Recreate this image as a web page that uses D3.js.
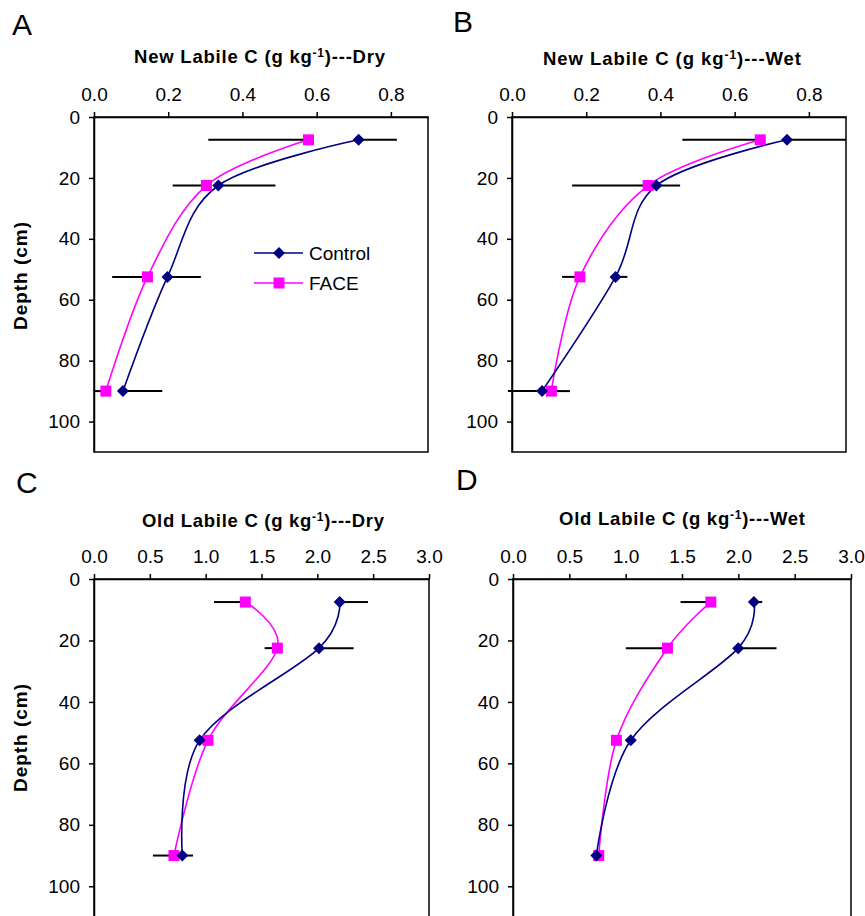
<!DOCTYPE html>
<html lang="en">
<head>
<meta charset="UTF-8">
<title>Labile C depth profiles</title>
<style>
    body { margin: 0; background: #fff; }
    svg { display: block; font-family: "Liberation Sans", Arial, sans-serif; }
    .axis path, .axis line { stroke: #000; stroke-width: 1.5; }
    .axis text { font-size: 19px; fill: #000; }
</style>
</head>
<body>
<div id="chart"></div>
<script src="https://d3js.org/d3.v7.min.js"></script>
<script>
// depth of each sampled layer (cm)
const depths = [7.5, 22.5, 52.5, 90];
const depthTicks = [0, 20, 40, 60, 80, 100];
const newTicks = [0, 0.2, 0.4, 0.6, 0.8];
const oldTicks = [0, 0.5, 1.0, 1.5, 2.0, 2.5, 3.0];
const seriesNames = ["Control", "FACE"];
const panelLetters = ["A", "B", "C", "D"];
const poolNames = ["New Labile C", "New Labile C", "Old Labile C", "Old Labile C"];
const moisture = ["Dry", "Wet", "Dry", "Wet"];

// values (g/kg)
const controlNewDry = [0.713, 0.335, 0.198, 0.078];
const faceNewDry = [0.578, 0.303, 0.144, 0.032];
const controlNewWet = [0.741, 0.389, 0.279, 0.081];
const faceNewWet = [0.669, 0.367, 0.183, 0.106];
const controlOldDry = [2.20, 2.015, 0.946, 0.791];
const faceOldDry = [1.355, 1.642, 1.021, 0.716];
const controlOldWet = [2.138, 1.999, 1.045, 0.740];
const faceOldWet = [1.756, 1.371, 0.918, 0.761];

// error bars: control drawn on + side, FACE on - side
const controlNewDryErr = [0.103, 0.154, 0.090, 0.106];
const faceNewDryErr = [0.270, 0.091, 0.095, 0.032];
const controlNewWetErr = [0.159, 0.064, 0.032, 0.075];
const faceNewWetErr = [0.210, 0.205, 0.048, 0.117];
const controlOldDryErr = [0.254, 0.310, 0.030, 0.096];
const faceOldDryErr = [0.280, 0.114, 0.030, 0.188];
const controlOldWetErr = [0.074, 0.340, 0.020, 0.020];
const faceOldWetErr = [0.269, 0.370, 0.020, 0.030];

const width = 865, height = 916;
const colors = { Control: "#000080", FACE: "#ff00ff" };

const panels = [
    { left: 94, top: 117, w: 334, h: 335, xMax: 0.9, ticks: newTicks,
      control: controlNewDry, face: faceNewDry, cErr: controlNewDryErr, fErr: faceNewDryErr,
      letterX: 12, letterY: 35, titleX: 134, titleY: 63, titleLen: 251, yLabel: true, legend: true },
    { left: 512, top: 117, w: 334, h: 335, xMax: 0.9, ticks: newTicks,
      control: controlNewWet, face: faceNewWet, cErr: controlNewWetErr, fErr: faceNewWetErr,
      letterX: 453, letterY: 32, titleX: 543, titleY: 65, titleLen: 258 },
    { left: 94, top: 579, w: 335, h: 338, xMax: 3, ticks: oldTicks,
      control: controlOldDry, face: faceOldDry, cErr: controlOldDryErr, fErr: faceOldDryErr,
      letterX: 16, letterY: 493, titleX: 142, titleY: 527, titleLen: 242, yLabel: true },
    { left: 513, top: 579, w: 338, h: 338, xMax: 3, ticks: oldTicks,
      control: controlOldWet, face: faceOldWet, cErr: controlOldWetErr, fErr: faceOldWetErr,
      letterX: 456, letterY: 490, titleX: 559, titleY: 525, titleLen: 246 }
];

const svg = d3.select("#chart").append("svg")
    .attr("width", width)
    .attr("height", height);

const diamond = d3.symbol().type(d3.symbolSquare).size(72);
const square = d3.symbol().type(d3.symbolSquare).size(121);

panels.forEach((p, k) => {
    const x = d3.scaleLinear().domain([0, p.xMax]).range([p.left, p.left + p.w]);
    const y = d3.scaleLinear().domain([0, 110]).range([p.top, p.top + p.h]);

    // panel letter
    svg.append("text")
        .attr("x", p.letterX)
        .attr("y", p.letterY)
        .attr("font-size", 30)
        .text(panelLetters[k]);

    // title with superscript
    const t = svg.append("text")
        .attr("x", p.titleX)
        .attr("y", p.titleY)
        .attr("font-size", 18.5)
        .attr("font-weight", "bold")
        .attr("textLength", p.titleLen)
        .attr("lengthAdjust", "spacing");
    t.append("tspan").text(poolNames[k] + " (g kg");
    t.append("tspan").attr("font-size", 12).attr("dy", -6).text("-1");
    t.append("tspan").attr("dy", 6).text(")---" + moisture[k]);

    // plot frame
    svg.append("rect")
        .attr("x", p.left)
        .attr("y", p.top)
        .attr("width", p.w)
        .attr("height", p.h)
        .attr("fill", "none")
        .attr("stroke", "#000")
        .attr("stroke-width", 1.5);

    svg.append("g")
        .attr("class", "axis")
        .attr("transform", "translate(0," + p.top + ")")
        .call(d3.axisTop(x).tickValues(p.ticks).tickFormat(d3.format(".1f"))
            .tickSize(5).tickSizeOuter(0).tickPadding(11));

    svg.append("g")
        .attr("class", "axis")
        .attr("transform", "translate(" + p.left + ",0)")
        .call(d3.axisLeft(y).tickValues(depthTicks).tickFormat(d3.format("d"))
            .tickSize(5).tickSizeOuter(0).tickPadding(9));

    if (p.yLabel) {
        svg.append("text")
            .attr("transform", "translate(27," + (p.top + 159) + ") rotate(-90)")
            .attr("text-anchor", "middle")
            .attr("font-size", 19)
            .attr("font-weight", "bold")
            .attr("textLength", 108)
            .attr("lengthAdjust", "spacing")
            .text("Depth (cm)");
    }

    // error bars
    const g = svg.append("g");
    depths.forEach((d, i) => {
        g.append("line")
            .attr("x1", x(p.face[i] - p.fErr[i])).attr("x2", x(p.face[i]))
            .attr("y1", y(d)).attr("y2", y(d))
            .attr("stroke", "#000").attr("stroke-width", 2);
        g.append("line")
            .attr("x1", x(p.control[i])).attr("x2", x(p.control[i] + p.cErr[i]))
            .attr("y1", y(d)).attr("y2", y(d))
            .attr("stroke", "#000").attr("stroke-width", 2);
    });

    const line = d3.line()
        .x(d => x(d[0]))
        .y(d => y(d[1]))
        .curve(d3.curveCatmullRom.alpha(0));

    [["FACE", p.face], ["Control", p.control]].forEach(([name, vals]) => {
        const pts = vals.map((v, i) => [v, depths[i]]);
        svg.append("path")
            .datum(pts)
            .attr("d", line)
            .attr("fill", "none")
            .attr("stroke", colors[name])
            .attr("stroke-width", 1.6);
    });

    // markers
    svg.append("g").selectAll("path")
        .data(p.face.map((v, i) => [v, depths[i]]))
        .join("path")
        .attr("d", square)
        .attr("transform", d => "translate(" + x(d[0]) + "," + y(d[1]) + ")")
        .attr("fill", colors.FACE);
    svg.append("g").selectAll("path")
        .data(p.control.map((v, i) => [v, depths[i]]))
        .join("path")
        .attr("d", diamond)
        .attr("transform", d => "translate(" + x(d[0]) + "," + y(d[1]) + ") rotate(45)")
        .attr("fill", colors.Control);

    if (p.legend) {
        const lg = svg.append("g").attr("transform", "translate(254,253)");
        seriesNames.forEach((name, i) => {
            const row = lg.append("g").attr("transform", "translate(0," + (i * 30) + ")");
            row.append("line")
                .attr("x1", 0).attr("x2", 49)
                .attr("stroke", colors[name]).attr("stroke-width", 1.6);
            row.append("path")
                .attr("d", name === "Control" ? diamond : square)
                .attr("transform", "translate(25,0)" + (name === "Control" ? " rotate(45)" : ""))
                .attr("fill", colors[name]);
            row.append("text")
                .attr("x", 55)
                .attr("y", 7)
                .attr("font-size", 19)
                .text(name);
        });
    }
});
</script>
</body>
</html>
